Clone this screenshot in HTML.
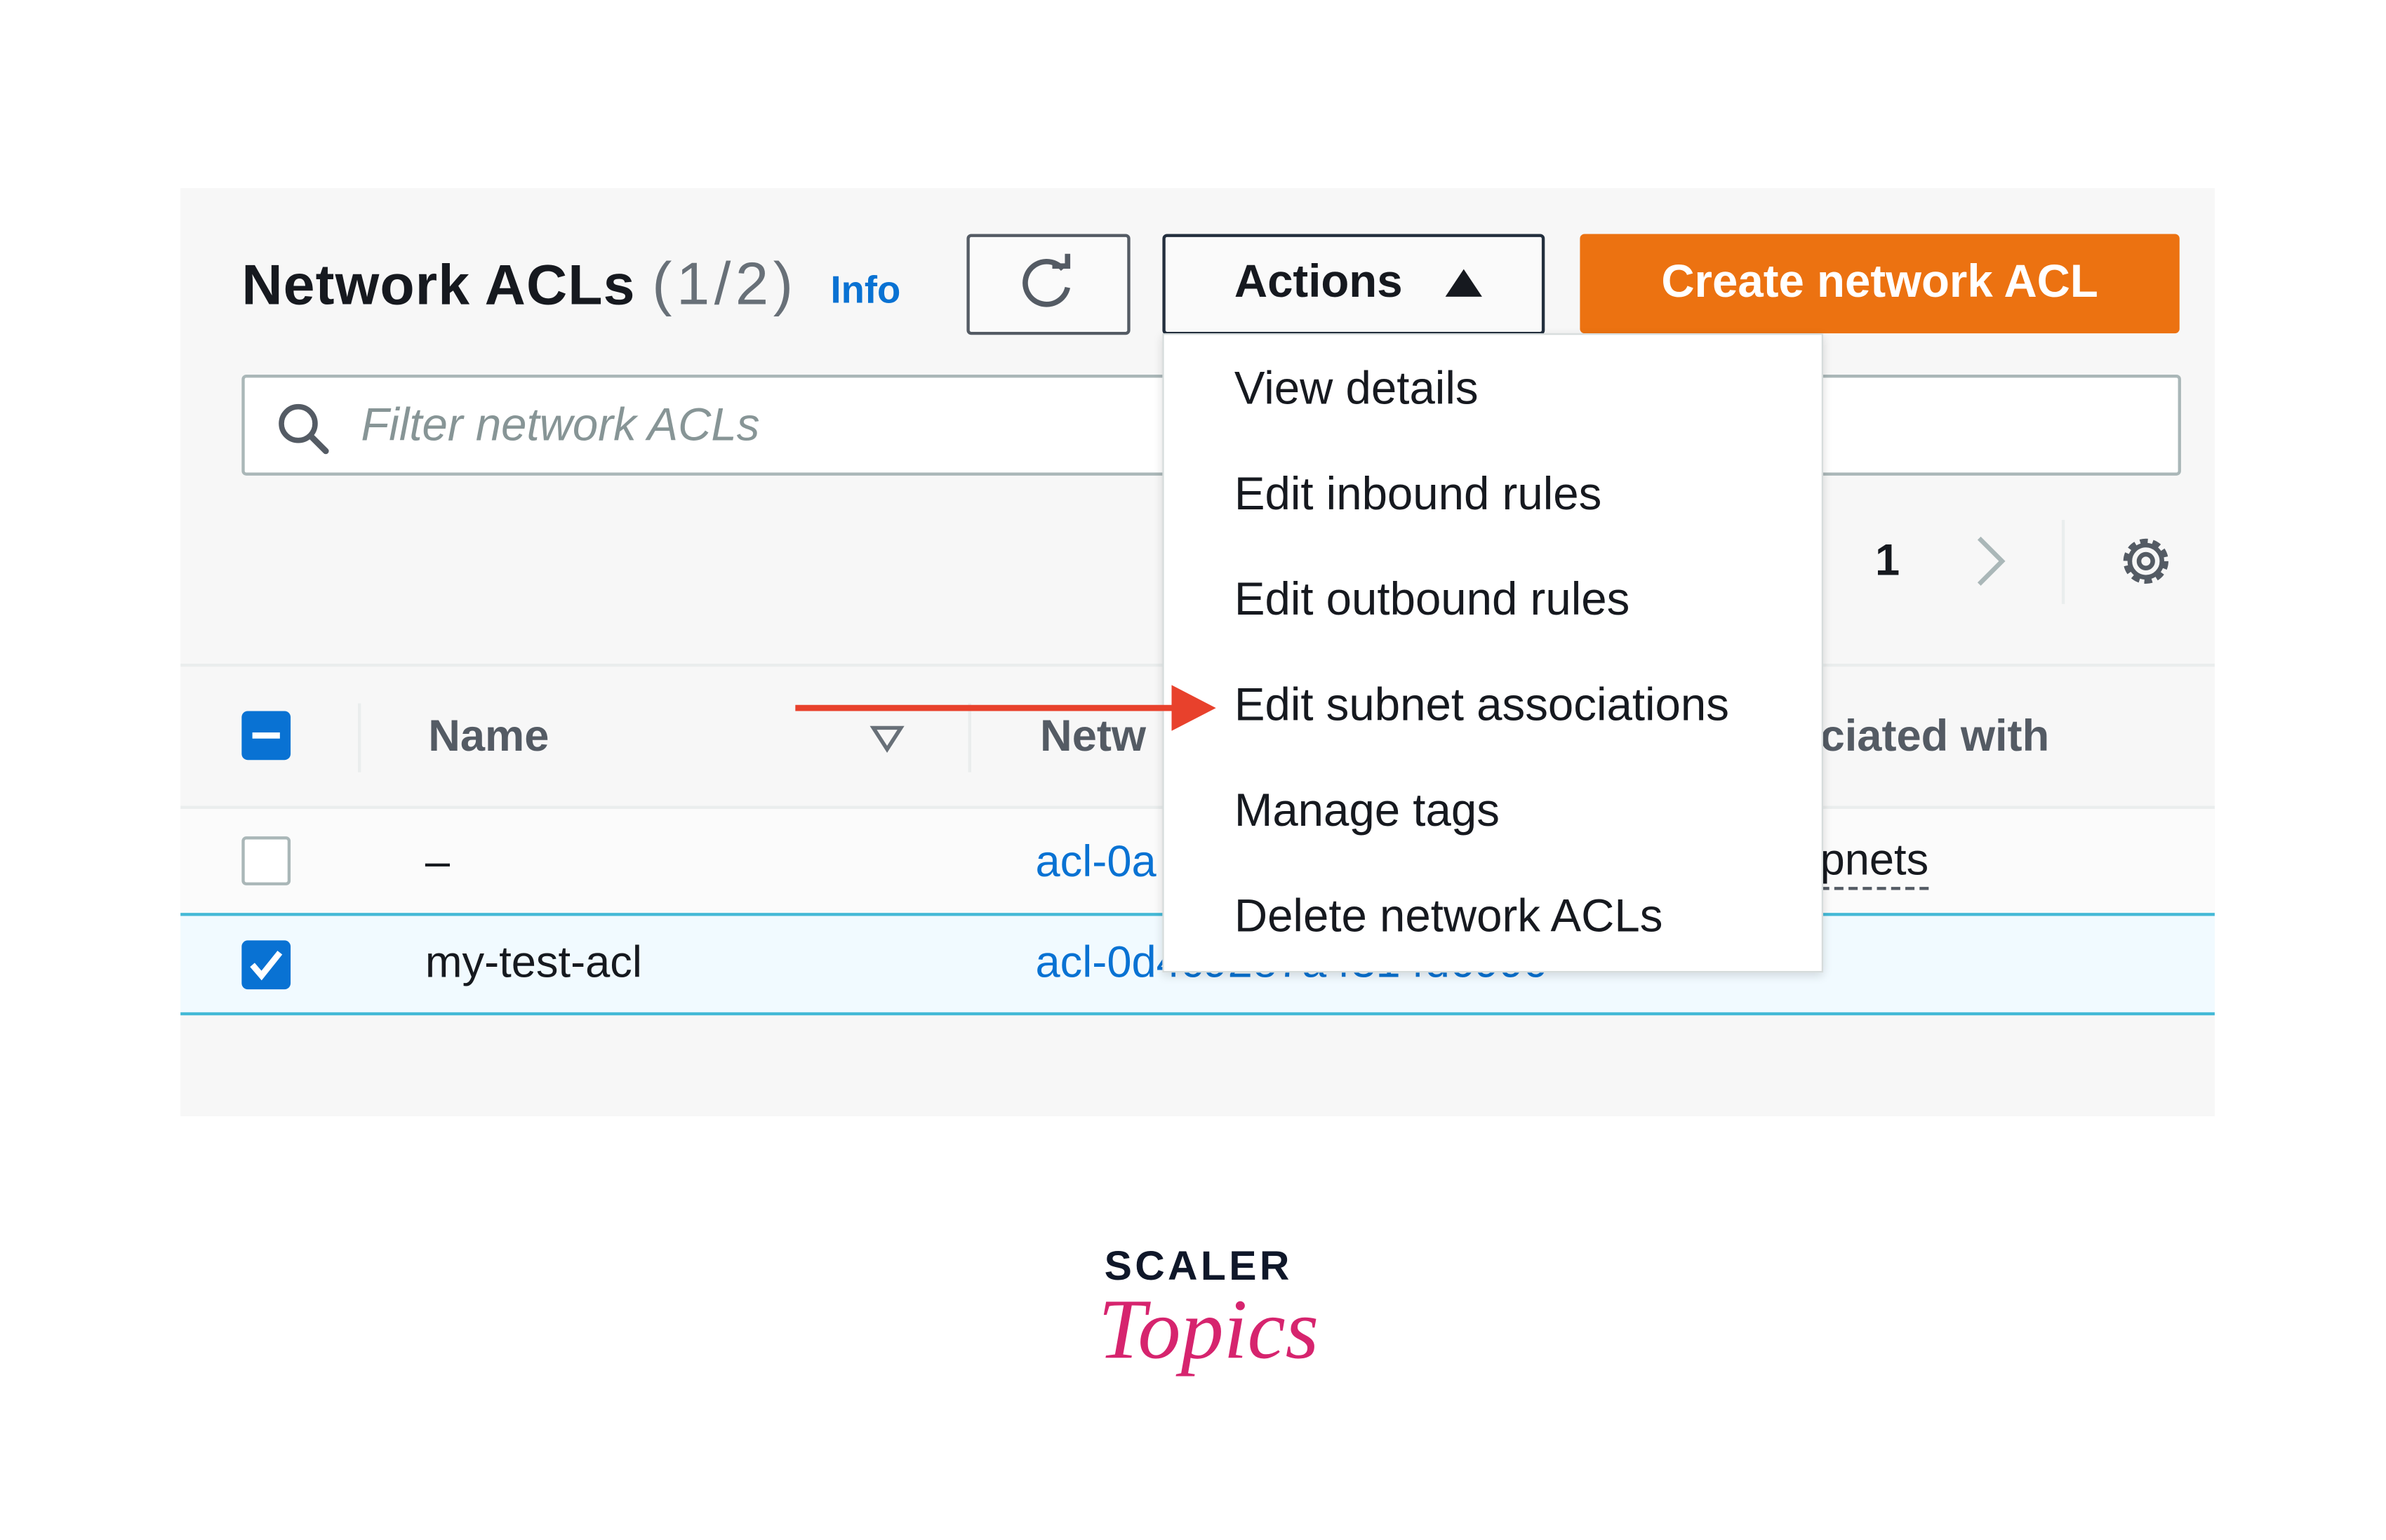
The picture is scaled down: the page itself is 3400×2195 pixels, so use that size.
<!DOCTYPE html>
<html><head><meta charset="utf-8"><style>
html,body{margin:0;padding:0;background:#fff;}
body{width:3400px;height:2194px;overflow:hidden;position:relative;}
#w{position:absolute;left:0;top:0;width:1560px;height:1007px;transform:scale(2.17949);transform-origin:0 0;font-family:"Liberation Sans",sans-serif;}
.a{position:absolute;}
.t{position:absolute;white-space:nowrap;line-height:1;}
</style></head><body><div id="w">
<div class="a" style="left:118px;top:123px;width:1330px;height:607px;background:#f7f7f7;"></div>
<!-- header -->
<div class="t" style="left:158px;top:167px;font-size:37px;font-weight:bold;color:#16191f;letter-spacing:0.5px;">Network ACLs <span style="font-weight:normal;color:#687078;letter-spacing:3px;font-size:39px;">(1/2)</span></div>
<div class="t" style="left:543px;top:178px;font-size:25px;font-weight:bold;color:#0972d3;">Info</div>
<div class="a" style="left:632px;top:153px;width:103px;height:62px;border:2px solid #545b64;border-radius:3px;background:#fafafa;"></div>
<svg class="a" style="left:664px;top:166px" width="42" height="40" viewBox="0 0 42 40"><path d="M31 10 A14 14 0 1 0 34 22" fill="none" stroke="#545b64" stroke-width="3.5"/><path d="M24 8 L34 8 L34 -1" fill="none" stroke="#545b64" stroke-width="3.5"/></svg>
<div class="a" style="left:760px;top:153px;width:246px;height:62px;border:2px solid #232f3e;border-radius:3px;background:#fafafa;"></div>
<div class="t" style="left:807px;top:170px;font-size:30px;font-weight:bold;color:#16191f;">Actions</div>
<svg class="a" style="left:944px;top:175px" width="26" height="20"><polygon points="13,1 25,19 1,19" fill="#16191f"/></svg>
<div class="a" style="left:1033px;top:153px;width:392px;height:65px;background:#ec7211;border-radius:3px;"></div>
<div class="t" style="left:1033px;top:170px;width:392px;text-align:center;font-size:30px;font-weight:bold;color:#fff;">Create network ACL</div>
<!-- search -->
<div class="a" style="left:158px;top:245px;width:1264px;height:62px;border:2px solid #aab7b8;border-radius:3px;background:#fff;"></div>
<svg class="a" style="left:180px;top:262px" width="38" height="38"><circle cx="15" cy="15" r="11" fill="none" stroke="#545b64" stroke-width="3.5"/><line x1="23" y1="23" x2="33" y2="33" stroke="#545b64" stroke-width="4" stroke-linecap="round"/></svg>
<div class="t" style="left:236px;top:264px;font-size:30px;font-style:italic;color:#879596;">Filter network ACLs</div>
<!-- pagination -->
<div class="t" style="left:1226px;top:353px;font-size:29px;font-weight:bold;color:#16191f;">1</div>
<svg class="a" style="left:1290px;top:349px" width="24" height="36"><polyline points="4,3 19,18 4,33" fill="none" stroke="#aab7b8" stroke-width="3"/></svg>
<div class="a" style="left:1348px;top:340px;width:2px;height:55px;background:#eaeded;"></div>
<svg class="a" style="left:1384px;top:348px" width="38" height="38" viewBox="0 0 38 38"><circle cx="19" cy="19" r="13" fill="none" stroke="#545b64" stroke-width="3.5" stroke-dasharray="5 3.2"/><circle cx="19" cy="19" r="10.5" fill="none" stroke="#545b64" stroke-width="3"/><circle cx="19" cy="19" r="4.5" fill="none" stroke="#545b64" stroke-width="3"/></svg>
<!-- table header -->
<div class="a" style="left:118px;top:434px;width:1330px;height:2px;background:#eaeded;"></div>
<div class="a" style="left:158px;top:465px;width:32px;height:32px;background:#0972d3;border-radius:4px;"></div>
<div class="a" style="left:165px;top:479px;width:18px;height:4px;background:#fff;"></div>
<div class="a" style="left:234px;top:460px;width:2px;height:45px;background:#eaeded;"></div>
<div class="t" style="left:280px;top:468px;font-size:29px;font-weight:bold;color:#545b64;">Name</div>
<svg class="a" style="left:568px;top:473px" width="24" height="20"><polygon points="3,3 21,3 12,17" fill="none" stroke="#687078" stroke-width="2.5"/></svg>
<div class="a" style="left:633px;top:460px;width:2px;height:45px;background:#eaeded;"></div>
<div class="t" style="left:680px;top:468px;font-size:29px;font-weight:bold;color:#545b64;">Netw</div>
<div class="t" style="left:1190px;top:468px;font-size:29px;font-weight:bold;color:#545b64;">ciated with</div>
<div class="a" style="left:118px;top:527px;width:1330px;height:2px;background:#eaeded;"></div>
<!-- row 1 -->
<div class="a" style="left:118px;top:529px;width:1330px;height:69px;background:#fbfbfb;"></div>
<div class="a" style="left:158px;top:547px;width:28px;height:28px;border:2px solid #aab7b8;border-radius:3px;background:#fff;"></div>
<div class="t" style="left:278px;top:550px;font-size:29px;color:#16191f;">–</div>
<div class="t" style="left:677px;top:550px;font-size:29px;color:#0972d3;">acl-0a</div>
<div class="t" style="left:1190px;top:549px;font-size:29px;color:#16191f;border-bottom:2px dashed #545b64;padding-bottom:2px;">pnets</div>
<!-- row 2 selected -->
<div class="a" style="left:118px;top:597px;width:1330px;height:63px;background:#f1faff;border-top:2px solid #44b9d6;border-bottom:2px solid #44b9d6;"></div>
<div class="a" style="left:158px;top:615px;width:32px;height:32px;background:#0972d3;border-radius:4px;"></div>
<svg class="a" style="left:158px;top:615px" width="32" height="32"><polyline points="7,16 13,23 25,8" fill="none" stroke="#fff" stroke-width="4"/></svg>
<div class="t" style="left:278px;top:616px;font-size:29px;color:#16191f;">my-test-acl</div>
<div class="t" style="left:677px;top:616px;font-size:29px;color:#0972d3;">acl-0d4c92e7a4314d699c</div>
<!-- dropdown -->
<div class="a" style="left:760px;top:218px;width:430px;height:416px;background:#fff;border:1px solid #d5dbdb;box-shadow:0 2px 6px rgba(0,0,0,0.15);"></div>
<div class="t" style="left:807px;top:240px;font-size:30px;color:#16191f;">View details</div>
<div class="t" style="left:807px;top:309px;font-size:30px;color:#16191f;">Edit inbound rules</div>
<div class="t" style="left:807px;top:378px;font-size:30px;color:#16191f;">Edit outbound rules</div>
<div class="t" style="left:807px;top:447px;font-size:30px;color:#16191f;">Edit subnet associations</div>
<div class="t" style="left:807px;top:516px;font-size:30px;color:#16191f;">Manage tags</div>
<div class="t" style="left:807px;top:585px;font-size:30px;color:#16191f;">Delete network ACLs</div>
<!-- arrow -->
<div class="a" style="left:520px;top:461px;width:252px;height:4px;background:#e8412c;"></div>
<svg class="a" style="left:766px;top:448px" width="30" height="30"><polygon points="0,0 29,15 0,30" fill="#e8412c"/></svg>
<!-- logo -->
<div class="t" style="left:722px;top:815px;font-size:27px;font-weight:bold;color:#0f1729;letter-spacing:2px;">SCALER</div>
<div class="t" style="left:718px;top:842px;font-size:56px;font-style:italic;font-family:'Liberation Serif',serif;color:#d6246e;">Topics</div>
</div></body></html>
